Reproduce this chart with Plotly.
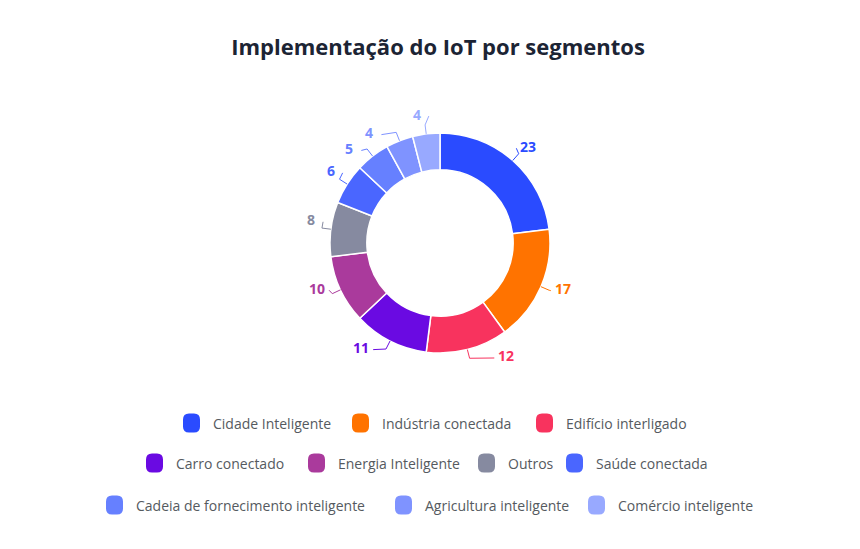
import math
import plotly.graph_objects as go

# ---- data ----
categories = ["Cidade Inteligente", "Indústria conectada", "Edifício interligado",
              "Carro conectado", "Energia Inteligente", "Outros", "Saúde conectada",
              "Cadeia de fornecimento inteligente", "Agricultura inteligente",
              "Comércio inteligente"]
values = [23, 17, 12, 11, 10, 8, 6, 5, 4, 4]
colors = ["#2a4bff", "#ff7300", "#f8335e", "#6a0ae2", "#aa3a9c", "#868aa0",
          "#4a66ff", "#6680ff", "#7f93ff", "#98a9ff"]
title = "Implementação do IoT por segmentos"

# ---- layout constants (pixels, in window coordinates) ----
OFF = 8  # default page body margin
W, H = 852, 541
CX, CY, R = 440, 243, 110
HOLE = 0.665
FONT = "Open Sans"


def px(x):
    return (x - OFF) / W


def py(y):
    return 1 - (y - OFF) / H


fig = go.Figure()
fig.add_trace(go.Pie(
    labels=categories, values=values, sort=False, direction="clockwise",
    rotation=0, hole=HOLE, textinfo="none", showlegend=False,
    marker=dict(colors=colors, line=dict(color="white", width=1.5)),
    domain=dict(x=[px(CX - R), px(CX + R)], y=[py(CY + R), py(CY - R)]),
    hoverinfo="label+value",
))

shapes = []
annotations = []

# outside labels with leader lines, derived from slice angles
label_nudge = [1, -3, -16, 10, 5, 3, 1, -6, -11, -3]  # angular label adjustments (deg)
total = sum(values)
cum = 0
for v, c, nd in zip(values, colors, label_nudge):
    mid = (cum + v / 2) / total * 360
    cum += v
    a = math.radians(mid)
    x0, y0 = CX + R * math.sin(a), CY - R * math.cos(a)
    x1, y1 = CX + (R + 9) * math.sin(a), CY - (R + 9) * math.cos(a)
    la = math.radians(mid + nd)
    lx, ly = CX + 131 * math.sin(la), CY - 131 * math.cos(la)
    side = 1 if math.sin(la) >= 0 else -1
    ex = lx - side * 12
    shapes.append(dict(type="path", xref="paper", yref="paper",
                       path=f"M {px(x0)},{py(y0)} L {px(x1)},{py(y1)} L {px(ex)},{py(ly + 2)}",
                       line=dict(color=c, width=1)))
    annotations.append(dict(x=px(lx), y=py(ly), xref="paper", yref="paper",
                            text=f"<b>{v}</b>", showarrow=False,
                            font=dict(family=FONT, size=14, color=c),
                            xanchor="center", yanchor="middle"))

# custom legend
legend_rows = [[0, 1, 2], [3, 4, 5, 6], [7, 8, 9]]
legend_y = [423, 463, 505]
legend_x = [[183, 352, 536], [146, 308, 478, 566], [106, 395, 588]]
for row, yy, xs in zip(legend_rows, legend_y, legend_x):
    for i, xx in zip(row, xs):
        w, h, r = 17, 19, 6
        x0, x1 = xx, xx + w
        y0, y1 = yy - h / 2, yy + h / 2
        path = (f"M {px(x0 + r)},{py(y0)} L {px(x1 - r)},{py(y0)} "
                f"Q {px(x1)},{py(y0)} {px(x1)},{py(y0 + r)} L {px(x1)},{py(y1 - r)} "
                f"Q {px(x1)},{py(y1)} {px(x1 - r)},{py(y1)} L {px(x0 + r)},{py(y1)} "
                f"Q {px(x0)},{py(y1)} {px(x0)},{py(y1 - r)} L {px(x0)},{py(y0 + r)} "
                f"Q {px(x0)},{py(y0)} {px(x0 + r)},{py(y0)} Z")
        shapes.append(dict(type="path", xref="paper", yref="paper", path=path,
                           fillcolor=colors[i], line=dict(width=0)))
        annotations.append(dict(x=px(xx + w + 11), y=py(yy), xref="paper", yref="paper",
                                text=categories[i], showarrow=False, xanchor="left",
                                yanchor="middle",
                                font=dict(family=FONT, size=14, color="#555a60")))

fig.update_layout(
    width=W, height=H, autosize=False,
    margin=dict(l=0, r=0, t=0, b=0),
    paper_bgcolor="white", plot_bgcolor="white",
    title=dict(text=f"<b>{title}</b>", x=px(438), xanchor="center", y=py(47), yanchor="middle",
               font=dict(family=FONT, size=22, color="#1c2434")),
    shapes=shapes, annotations=annotations, showlegend=False,
)

fig.write_html("out.html")
